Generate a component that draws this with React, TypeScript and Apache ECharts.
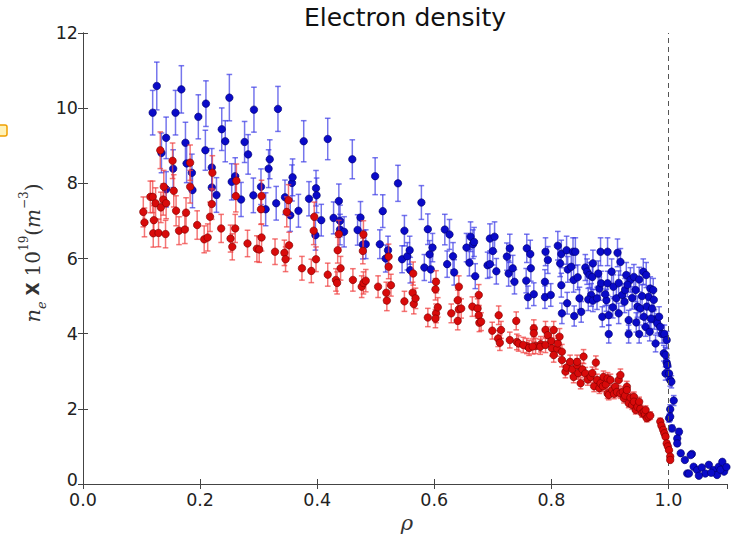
import React, { useEffect, useRef } from "react";
import * as echarts from "echarts";

const X_TICKS_MIN = 0;
const X_TICKS_MAX = 1.1;
const X_INTERVAL = 0.2;
const Y_MIN = 0;
const Y_MAX = 12;
const Y_INTERVAL = 2;
const SEPARATRIX = 1.0;

// relative error bar size
const BLUE_REL_ERR = 0.06;
const RED_REL_ERR = 0.055;

const bluePoints: [number, number][] = [
  [0.119, 9.88], [0.126, 10.59], [0.134, 8.81], [0.142, 9.21], [0.142, 7.84], [0.154, 8.39], [0.158, 9.88],
  [0.168, 10.5], [0.175, 9.08], [0.177, 8.53], [0.186, 8.28], [0.187, 7.82], [0.197, 9.77], [0.21, 10.12],
  [0.209, 8.88], [0.22, 8.42], [0.22, 7.89], [0.228, 7.69], [0.237, 9.44], [0.243, 9.12], [0.25, 10.28],
  [0.254, 8.04], [0.26, 8.19], [0.27, 7.57], [0.276, 9.1], [0.282, 8.77], [0.291, 7.68], [0.292, 9.96],
  [0.304, 7.91], [0.312, 7.31], [0.317, 8.39], [0.319, 8.64], [0.33, 7.47], [0.333, 9.98], [0.345, 7.63],
  [0.354, 7.15], [0.357, 8.01], [0.358, 8.16], [0.368, 7.27], [0.377, 9.12], [0.386, 7.59], [0.397, 6.62],
  [0.398, 7.87], [0.399, 7.68], [0.407, 7.02], [0.418, 9.18], [0.428, 7.08], [0.437, 7.53], [0.439, 7.0],
  [0.439, 6.77], [0.446, 6.71], [0.46, 8.64], [0.469, 6.76], [0.474, 7.09], [0.478, 6.37], [0.483, 6.38],
  [0.499, 8.19], [0.507, 6.38], [0.512, 7.26], [0.517, 6.0], [0.521, 6.22], [0.538, 8.0], [0.545, 5.98],
  [0.549, 6.74], [0.554, 6.06], [0.558, 6.22], [0.559, 5.69], [0.578, 7.49], [0.583, 5.76], [0.589, 6.78],
  [0.592, 6.11], [0.594, 5.71], [0.597, 6.29], [0.618, 6.77], [0.622, 5.85], [0.626, 6.64], [0.632, 6.06],
  [0.634, 5.63], [0.655, 6.29], [0.66, 5.89], [0.662, 6.58], [0.666, 6.38], [0.668, 6.44], [0.67, 5.53],
  [0.691, 5.82], [0.695, 6.53], [0.695, 5.85], [0.7, 6.2], [0.703, 6.58], [0.706, 5.66], [0.724, 6.05],
  [0.727, 5.6], [0.729, 6.27], [0.734, 5.74], [0.737, 5.38], [0.757, 5.41], [0.758, 6.27], [0.76, 4.97],
  [0.764, 6.12], [0.765, 5.74], [0.77, 5.05], [0.789, 5.38], [0.789, 4.97], [0.794, 5.96], [0.79, 6.18],
  [0.799, 5.03], [0.811, 6.34], [0.817, 6.12], [0.815, 5.87], [0.817, 5.29], [0.818, 4.54], [0.826, 6.22],
  [0.828, 5.71], [0.827, 4.81], [0.837, 6.18], [0.841, 6.18], [0.834, 5.78], [0.838, 5.43], [0.845, 5.5],
  [0.839, 4.47], [0.851, 4.58], [0.848, 4.94], [0.858, 5.76], [0.861, 5.65], [0.865, 5.56], [0.871, 5.87],
  [0.87, 5.51], [0.868, 5.03], [0.863, 4.91], [0.871, 4.88], [0.882, 5.2], [0.878, 4.94], [0.884, 6.18],
  [0.887, 4.45], [0.885, 5.34], [0.896, 6.18], [0.896, 5.34], [0.894, 4.89], [0.898, 4.49], [0.898, 3.99],
  [0.903, 5.65], [0.906, 5.25], [0.911, 4.94], [0.915, 4.54], [0.918, 5.91], [0.913, 6.15], [0.921, 5.03],
  [0.926, 5.16], [0.928, 5.56], [0.932, 4.36], [0.932, 3.99], [0.935, 5.43], [0.941, 5.51], [0.944, 5.16],
  [0.947, 4.72], [0.95, 3.99], [0.95, 5.44], [0.952, 4.67], [0.957, 5.65], [0.962, 5.56], [0.961, 4.18],
  [0.963, 4.72], [0.966, 4.98], [0.969, 5.2], [0.974, 5.16], [0.972, 4.67], [0.976, 4.38], [0.978, 3.74],
  [0.981, 4.27], [0.984, 4.45], [0.986, 4.18], [0.989, 3.99], [0.993, 3.99], [0.997, 3.83], [0.992, 3.48],
  [0.905, 4.7], [0.925, 4.85], [0.938, 4.95], [0.955, 5.0], [0.975, 4.9], [0.945, 4.3], [0.958, 4.45],
  [0.968, 4.05], [0.88, 5.6], [0.892, 5.05], [0.915, 5.35], [0.93, 5.3], [0.97, 4.4],
  [0.995, 3.43], [0.997, 3.23], [0.998, 3.16], [0.995, 2.94], [1.001, 2.94], [1.003, 2.77], [1.005, 2.72],
  [1.009, 2.22], [1.003, 1.99], [1.001, 1.75], [1.003, 1.79], [1.006, 1.48], [1.018, 1.39], [1.015, 1.21],
  [1.015, 1.08], [1.021, 0.82], [1.028, 0.64], [1.04, 0.8], [1.038, 0.77], [1.032, 0.28], [1.035, 0.28],
  [1.043, 0.46], [1.049, 0.37], [1.057, 0.44], [1.063, 0.28], [1.069, 0.51], [1.077, 0.37], [1.083, 0.24],
  [1.086, 0.46], [1.092, 0.59], [1.095, 0.33], [1.073, 0.3], [1.089, 0.38], [1.052, 0.22], [1.099, 0.45],
];

const redPoints: [number, number][] = [
  [0.103, 7.24], [0.105, 6.96], [0.115, 7.64], [0.119, 7.64], [0.121, 7.02], [0.12, 6.67], [0.124, 7.47],
  [0.129, 6.68], [0.132, 8.88], [0.133, 7.36], [0.137, 7.57], [0.138, 7.91], [0.142, 7.47], [0.141, 6.65],
  [0.153, 8.6], [0.155, 7.8], [0.159, 7.27], [0.164, 6.74], [0.174, 6.77], [0.176, 7.22], [0.183, 8.55],
  [0.183, 7.91], [0.195, 6.89], [0.207, 6.51], [0.213, 6.56], [0.217, 7.11], [0.22, 7.45], [0.221, 8.28],
  [0.236, 6.8], [0.252, 6.53], [0.255, 6.31], [0.26, 6.8], [0.261, 7.66], [0.262, 8.07], [0.281, 6.4],
  [0.297, 6.26], [0.301, 6.24], [0.305, 6.56], [0.304, 7.31], [0.305, 7.66], [0.328, 6.18], [0.344, 6.15],
  [0.346, 5.98], [0.352, 6.35], [0.348, 7.24], [0.351, 7.55], [0.374, 5.74], [0.39, 5.67], [0.398, 5.98],
  [0.394, 6.74], [0.395, 7.11], [0.418, 5.57], [0.437, 6.65], [0.435, 6.22], [0.44, 5.74], [0.432, 5.43],
  [0.434, 5.35], [0.461, 5.43], [0.476, 5.25], [0.479, 5.35], [0.483, 5.41], [0.479, 6.64], [0.478, 6.2],
  [0.504, 5.25], [0.518, 5.09], [0.519, 4.88], [0.522, 5.78], [0.522, 6.05], [0.526, 5.29], [0.549, 4.86],
  [0.564, 5.6], [0.563, 5.09], [0.565, 4.79], [0.568, 4.94], [0.589, 4.43], [0.603, 5.38], [0.602, 5.18],
  [0.603, 4.54], [0.602, 4.4], [0.606, 4.7], [0.629, 4.54], [0.642, 5.25], [0.64, 4.89], [0.642, 4.65],
  [0.64, 4.34], [0.646, 4.67], [0.665, 4.72], [0.676, 5.03], [0.674, 4.67], [0.676, 4.49], [0.677, 4.29],
  [0.68, 4.32], [0.699, 4.08], [0.71, 4.49], [0.709, 3.87], [0.712, 3.76], [0.714, 4.1], [0.729, 3.83],
  [0.74, 4.34], [0.741, 3.78], [0.744, 3.74], [0.758, 3.67], [0.77, 4.14], [0.77, 4.01], [0.773, 3.67],
  [0.752, 3.7], [0.762, 3.62], [0.768, 3.66], [0.782, 3.72], [0.781, 3.65], [0.79, 4.1], [0.794, 3.96],
  [0.79, 3.7], [0.8, 3.8], [0.801, 3.61], [0.804, 4.1], [0.81, 3.6], [0.811, 3.74], [0.814, 3.92],
  [0.804, 3.43], [0.818, 3.52], [0.818, 3.3], [0.824, 2.99], [0.826, 3.1], [0.832, 3.25], [0.836, 3.05],
  [0.838, 2.85], [0.844, 3.16], [0.844, 3.25], [0.846, 2.95], [0.853, 3.05], [0.855, 3.39], [0.85, 2.68],
  [0.858, 2.94], [0.862, 2.78], [0.867, 2.85], [0.87, 2.95], [0.873, 2.6], [0.876, 3.23], [0.878, 2.77],
  [0.882, 2.55], [0.884, 2.68], [0.888, 2.6], [0.889, 2.85], [0.893, 2.65], [0.896, 2.81], [0.896, 2.41],
  [0.898, 2.37], [0.901, 2.77], [0.904, 2.5], [0.907, 2.4], [0.909, 2.59], [0.912, 2.45], [0.915, 2.77],
  [0.918, 2.9], [0.918, 2.41], [0.922, 2.45], [0.924, 2.28], [0.926, 2.35], [0.929, 2.59], [0.929, 2.5],
  [0.932, 2.15], [0.935, 2.3], [0.938, 2.1], [0.941, 2.32], [0.941, 2.19], [0.944, 1.97], [0.947, 2.05],
  [0.95, 2.19], [0.952, 2.0], [0.955, 1.88], [0.958, 1.92], [0.96, 1.85], [0.961, 1.97], [0.963, 1.75],
  [0.966, 1.79], [0.969, 1.82], [0.986, 1.66], [0.988, 1.55], [0.991, 1.44], [0.993, 1.35], [0.995, 1.26],
  [0.997, 1.08], [0.999, 1.0], [1.001, 0.9], [1.003, 0.73], [1.003, 0.64],
];

const BLUE = "#0a0ac8";
const BLUE_EDGE = "#00006a";
const BLUE_ERR = "rgba(60,60,230,0.7)";
const RED = "#d80a0a";
const RED_EDGE = "#7a0000";
const RED_ERR = "rgba(240,60,60,0.7)";

function errData(points: [number, number][], rel: number) {
  return points.map(([x, y]) => [x, y - y * rel, y + y * rel]);
}

function errSeries(points: [number, number][], rel: number, color: string, z: number) {
  return {
    type: "custom",
    z,
    clip: true,
    silent: true,
    data: errData(points, rel),
    encode: { x: 0, y: [1, 2] },
    renderItem: (_params: any, api: any) => {
      const x = api.value(0);
      const p1 = api.coord([x, api.value(1)]);
      const p2 = api.coord([x, api.value(2)]);
      const w = 2.8;
      const style = { stroke: color, lineWidth: 1.5, fill: "none" };
      return {
        type: "group",
        children: [
          { type: "line", shape: { x1: p1[0], y1: p1[1], x2: p2[0], y2: p2[1] }, style },
          { type: "line", shape: { x1: p1[0] - w, y1: p1[1], x2: p1[0] + w, y2: p1[1] }, style },
          { type: "line", shape: { x1: p2[0] - w, y1: p2[1], x2: p2[0] + w, y2: p2[1] }, style },
        ],
      };
    },
  };
}

export default function App() {
  const ref = useRef<HTMLDivElement>(null);
  useEffect(() => {
    if (!ref.current) return;
    const chart = echarts.init(ref.current, null, { renderer: "svg" });
    const axisLine = { lineStyle: { color: "#444", width: 1 } };
    const tick = { inside: true, length: 5, lineStyle: { color: "#444" } };
    const labelFont = { fontFamily: "DejaVu Sans", fontSize: 17.5, color: "#222" };
    chart.setOption({
      animation: false,
      backgroundColor: "#fff",
      grid: { left: 83, right: 4, top: 33, bottom: 51, containLabel: false },
      xAxis: [
        {
          type: "value",
          min: X_TICKS_MIN,
          max: X_TICKS_MAX,
          interval: X_INTERVAL,
          position: "bottom",
          axisLine,
          axisTick: tick,
          splitLine: { show: false },
          axisLabel: {
            ...labelFont,
            margin: 7,
            showMaxLabel: false,
            formatter: (v: number) => v.toFixed(1),
          },
        },
        {
          type: "value",
          min: X_TICKS_MIN,
          max: X_TICKS_MAX,
          interval: X_INTERVAL,
          position: "top",
          axisLine,
          axisTick: tick,
          splitLine: { show: false },
          axisLabel: { show: false },
        },
      ],
      yAxis: [
        {
          type: "value",
          min: Y_MIN,
          max: Y_MAX,
          interval: Y_INTERVAL,
          position: "left",
          axisLine: { show: true, ...axisLine },
          axisTick: { show: true, ...tick },
          splitLine: { show: false },
          axisLabel: {
            ...labelFont,
            margin: 5,
            formatter: (v: number) => (v === 0 ? "{z|0}" : String(v)),
            rich: { z: { ...labelFont, padding: [0, 0, 9, 0] } },
          },
        },
        {
          type: "value",
          min: Y_MIN,
          max: Y_MAX,
          interval: Y_INTERVAL,
          position: "right",
          axisLine: { show: true, ...axisLine },
          axisTick: { show: true, ...tick },
          splitLine: { show: false },
          axisLabel: { show: false },
        },
      ],
      series: [
        errSeries(bluePoints, BLUE_REL_ERR, BLUE_ERR, 2),
        {
          type: "scatter",
          z: 3,
          data: bluePoints,
          symbol: "circle",
          symbolSize: 7.5,
          itemStyle: { color: BLUE, borderColor: BLUE_EDGE, borderWidth: 0.6, opacity: 1 },
          markLine: {
            silent: true,
            symbol: ["none", "none"],
            label: { show: false },
            lineStyle: { type: [5, 4], color: "#555", width: 1 },
            data: [{ xAxis: SEPARATRIX }],
          },
        },
        errSeries(redPoints, RED_REL_ERR, RED_ERR, 4),
        {
          type: "scatter",
          z: 5,
          data: redPoints,
          symbol: "circle",
          symbolSize: 7.5,
          itemStyle: { color: RED, borderColor: RED_EDGE, borderWidth: 0.6, opacity: 1 },
        },
      ],
      graphic: [
        {
          type: "text",
          x: 405,
          y: 17,
          style: {
            text: "Electron density",
            fontFamily: "DejaVu Sans",
            fontSize: 25,
            fill: "#111",
            align: "center",
            verticalAlign: "middle",
          },
        },
        {
          type: "text",
          x: 407,
          y: 523,
          style: {
            text: "ρ",
            fontFamily: "DejaVu Serif",
            fontStyle: "italic",
            fontSize: 21,
            fill: "#333",
            align: "center",
            verticalAlign: "middle",
          },
        },
        {
          type: "text",
          x: 33,
          y: 253,
          rotation: Math.PI / 2,
          style: {
            text: "{n|n}{e|e}{x| X }{t|10}{s|19}{t|(}{m|m}{s|−3}{t|)}",
            align: "center",
            verticalAlign: "middle",
            fill: "#333",
            rich: {
              n: { fontFamily: "DejaVu Serif", fontStyle: "italic", fontSize: 21, lineHeight: 30, fill: "#333" },
              e: { fontFamily: "DejaVu Serif", fontStyle: "italic", fontSize: 13, lineHeight: 22, verticalAlign: "bottom", fill: "#333" },
              x: { fontFamily: "DejaVu Sans", fontWeight: "bold", fontSize: 17, lineHeight: 30, fill: "#333" },
              t: { fontFamily: "DejaVu Serif", fontSize: 20, lineHeight: 30, fill: "#333" },
              m: { fontFamily: "DejaVu Serif", fontStyle: "italic", fontSize: 20, lineHeight: 30, fill: "#333" },
              s: { fontFamily: "DejaVu Serif", fontSize: 12, lineHeight: 18, verticalAlign: "top", fill: "#333" },
            },
          },
        },
        {
          type: "rect",
          shape: { x: -3, y: 125, width: 10, height: 11, r: 2 },
          style: { fill: "#fff2b8", stroke: "#f0a000", lineWidth: 1.5 },
        },
      ],
    });
    return () => chart.dispose();
  }, []);
  return (
    <div
      ref={ref}
      style={{ position: "fixed", left: 0, top: 0, width: 731, height: 535, background: "#fff" }}
    />
  );
}
